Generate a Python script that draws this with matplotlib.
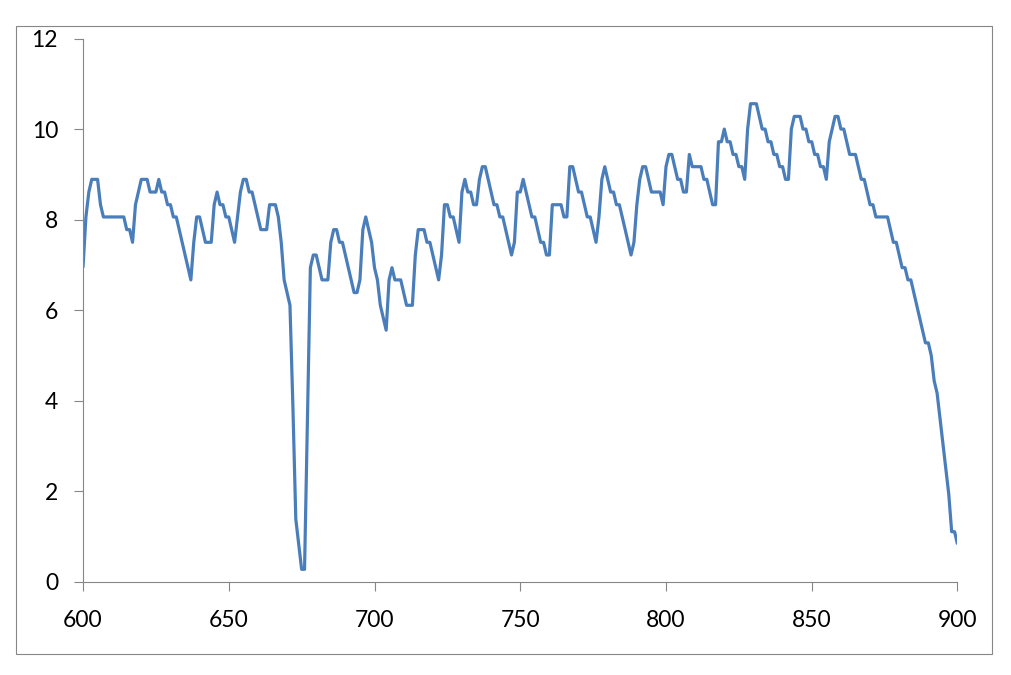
import numpy as np
import matplotlib
matplotlib.use("Agg")
import matplotlib.pyplot as plt
from matplotlib.patches import Rectangle

# x positions (one reading per unit from 600 to 900)
x_values = list(range(600, 901))

y_600s = [6.94, 8.06, 8.61, 8.89, 8.89, 8.89, 8.33, 8.06, 8.06, 8.06,
          8.06, 8.06, 8.06, 8.06, 8.06, 7.78, 7.78, 7.50, 8.33, 8.61,
          8.89, 8.89, 8.89, 8.61, 8.61, 8.61, 8.89, 8.61, 8.61, 8.33,
          8.33, 8.06, 8.06, 7.78, 7.50, 7.22, 6.94, 6.67, 7.50, 8.06,
          8.06, 7.78, 7.50, 7.50, 7.50, 8.33, 8.61, 8.33, 8.33, 8.06]
y_650s = [8.06, 7.78, 7.50, 8.06, 8.61, 8.89, 8.89, 8.61, 8.61, 8.33,
          8.06, 7.78, 7.78, 7.78, 8.33, 8.33, 8.33, 8.06, 7.50, 6.67,
          6.39, 6.11, 3.89, 1.39, 0.83, 0.28, 0.28, 3.61, 6.94, 7.22,
          7.22, 6.94, 6.67, 6.67, 6.67, 7.50, 7.78, 7.78, 7.50, 7.50,
          7.22, 6.94, 6.67, 6.39, 6.39, 6.67, 7.78, 8.06, 7.78, 7.50]
y_700s = [6.94, 6.67, 6.11, 5.83, 5.56, 6.67, 6.94, 6.67, 6.67, 6.67,
          6.39, 6.11, 6.11, 6.11, 7.22, 7.78, 7.78, 7.78, 7.50, 7.50,
          7.22, 6.94, 6.67, 7.22, 8.33, 8.33, 8.06, 8.06, 7.78, 7.50,
          8.61, 8.89, 8.61, 8.61, 8.33, 8.33, 8.89, 9.17, 9.17, 8.89,
          8.61, 8.33, 8.33, 8.06, 8.06, 7.78, 7.50, 7.22, 7.50, 8.61]
y_750s = [8.61, 8.89, 8.61, 8.33, 8.06, 8.06, 7.78, 7.50, 7.50, 7.22,
          7.22, 8.33, 8.33, 8.33, 8.33, 8.06, 8.06, 9.17, 9.17, 8.89,
          8.61, 8.61, 8.33, 8.06, 8.06, 7.78, 7.50, 8.06, 8.89, 9.17,
          8.89, 8.61, 8.61, 8.33, 8.33, 8.06, 7.78, 7.50, 7.22, 7.50,
          8.33, 8.89, 9.17, 9.17, 8.89, 8.61, 8.61, 8.61, 8.61, 8.33]
y_800s = [9.17, 9.44, 9.44, 9.17, 8.89, 8.89, 8.61, 8.61, 9.44, 9.17,
          9.17, 9.17, 9.17, 8.89, 8.89, 8.61, 8.33, 8.33, 9.72, 9.72,
          10.00, 9.72, 9.72, 9.44, 9.44, 9.17, 9.17, 8.89, 10.00, 10.56,
          10.56, 10.56, 10.28, 10.00, 10.00, 9.72, 9.72, 9.44, 9.44, 9.17,
          9.17, 8.89, 8.89, 10.00, 10.28, 10.28, 10.28, 10.00, 10.00, 9.72]
y_850s = [9.72, 9.44, 9.44, 9.17, 9.17, 8.89, 9.72, 10.00, 10.28, 10.28,
          10.00, 10.00, 9.72, 9.44, 9.44, 9.44, 9.17, 8.89, 8.89, 8.61,
          8.33, 8.33, 8.06, 8.06, 8.06, 8.06, 8.06, 7.78, 7.50, 7.50,
          7.22, 6.94, 6.94, 6.67, 6.67, 6.39, 6.11, 5.83, 5.56, 5.28,
          5.28, 5.00, 4.44, 4.17, 3.61, 3.06, 2.50, 1.94, 1.11, 1.11,
          0.83]

y_values = y_600s + y_650s + y_700s + y_750s + y_800s + y_850s

x_ticks = [600, 650, 700, 750, 800, 850, 900]
y_ticks = [0, 2, 4, 6, 8, 10, 12]

W, H = 1011, 675
fig = plt.figure(figsize=(W / 100, H / 100), dpi=100)
fig.patch.set_facecolor("white")

ax_left, ax_right, ax_top, ax_bottom = 83, 957.5, 38.5, 582
ax = fig.add_axes([ax_left / W, 1 - ax_bottom / H,
                   (ax_right - ax_left) / W, (ax_bottom - ax_top) / H])

ax.plot(x_values, y_values, color="#4A7EBB", lw=2.3,
        solid_joinstyle="round", solid_capstyle="butt")

ax.set_xlim(600, 900)
ax.set_ylim(0, 12)
ax.set_xticks(x_ticks)
ax.set_yticks(y_ticks)

grey = "#868686"
for side in ["top", "right"]:
    ax.spines[side].set_visible(False)
for side in ["left", "bottom"]:
    ax.spines[side].set_color(grey)
    ax.spines[side].set_linewidth(0.8)

font = "Lato"
ax.tick_params(axis="both", direction="out", length=6.5, width=0.8,
               color=grey, labelsize=16.5, labelcolor="black")
ax.tick_params(axis="y", pad=11.5)
ax.tick_params(axis="x", pad=14)
for lab in ax.get_xticklabels() + ax.get_yticklabels():
    lab.set_fontfamily(font)

# chart-area border
fig.patches.append(Rectangle((16 / W, 1 - 654 / H), (992 - 16) / W,
                             (654 - 25.7) / H, transform=fig.transFigure,
                             fill=False, ec=grey, lw=0.8))

fig.savefig("out.png", dpi=100)
